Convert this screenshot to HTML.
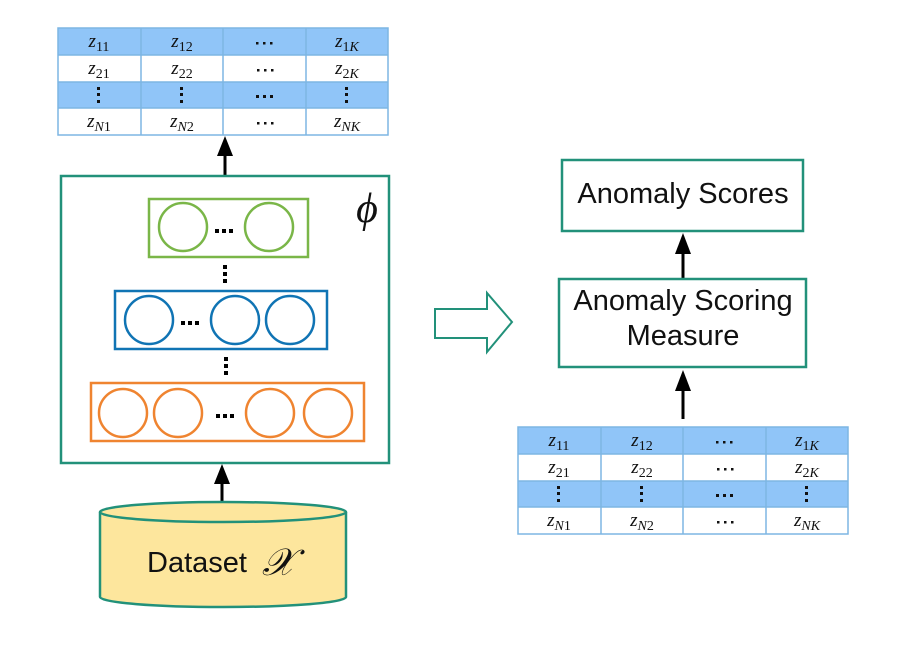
<!DOCTYPE html>
<html><head><meta charset="utf-8"><style>
html,body{margin:0;padding:0;background:#fff;}
svg{display:block;}
.z{font-family:"Liberation Serif",serif;font-size:19px;font-style:italic;}
.s{font-size:14px;font-style:normal;}
.si{font-size:14px;font-style:italic;}
.lbl{font-family:"Liberation Sans",sans-serif;font-size:29px;fill:#111;}
</style></head><body>
<svg width="914" height="652" viewBox="0 0 914 652" xmlns="http://www.w3.org/2000/svg">
<defs>
<g id="tbl">
  <rect x="0" y="0" width="330" height="27" fill="#90c5f8"/>
  <rect x="0" y="27" width="330" height="27" fill="#fff"/>
  <rect x="0" y="54" width="330" height="26" fill="#90c5f8"/>
  <rect x="0" y="80" width="330" height="27" fill="#fff"/>
  <g stroke="#7db6e3" stroke-width="1.5" fill="none">
    <rect x="0" y="0" width="330" height="107"/>
    <line x1="0" y1="27" x2="330" y2="27"/>
    <line x1="0" y1="54" x2="330" y2="54"/>
    <line x1="0" y1="80" x2="330" y2="80"/>
    <line x1="83" y1="0" x2="83" y2="107"/>
    <line x1="165" y1="0" x2="165" y2="107"/>
    <line x1="248" y1="0" x2="248" y2="107"/>
  </g>
  <g class="z" text-anchor="middle" fill="#111">
    <text x="41" y="19">z<tspan class="s" dy="4">11</tspan></text>
    <text x="124" y="19">z<tspan class="s" dy="4">12</tspan></text>
    <text x="289" y="19">z<tspan class="s" dy="4">1</tspan><tspan class="si">K</tspan></text>
    <text x="41" y="46">z<tspan class="s" dy="4">21</tspan></text>
    <text x="124" y="46">z<tspan class="s" dy="4">22</tspan></text>
    <text x="289" y="46">z<tspan class="s" dy="4">2</tspan><tspan class="si">K</tspan></text>
    <text x="41" y="99">z<tspan class="si" dy="4">N</tspan><tspan class="s">1</tspan></text>
    <text x="124" y="99">z<tspan class="si" dy="4">N</tspan><tspan class="s">2</tspan></text>
    <text x="289" y="99">z<tspan class="si" dy="4">NK</tspan></text>
  </g>
  <g fill="#111">
    <rect x="198" y="14" width="2.5" height="2.5"/><rect x="205" y="14" width="2.5" height="2.5"/><rect x="212" y="14" width="2.5" height="2.5"/>
    <rect x="199" y="41" width="2.5" height="2.5"/><rect x="206" y="41" width="2.5" height="2.5"/><rect x="213" y="41" width="2.5" height="2.5"/>
    <rect x="198" y="67" width="3" height="3"/><rect x="205" y="67" width="3" height="3"/><rect x="212" y="67" width="3" height="3"/>
    <rect x="199" y="94" width="2.5" height="2.5"/><rect x="206" y="94" width="2.5" height="2.5"/><rect x="213" y="94" width="2.5" height="2.5"/>
    <rect x="39" y="59" width="3" height="3"/><rect x="39" y="65" width="3" height="3"/><rect x="39" y="72" width="3" height="3"/>
    <rect x="122" y="59" width="3" height="3"/><rect x="122" y="65" width="3" height="3"/><rect x="122" y="72" width="3" height="3"/>
    <rect x="287" y="59" width="3" height="3"/><rect x="287" y="65" width="3" height="3"/><rect x="287" y="72" width="3" height="3"/>
  </g>
</g>
</defs>

<use href="#tbl" x="58" y="28"/>
<use href="#tbl" x="518" y="427"/>

<g stroke="#000" stroke-width="3">
  <line x1="225" y1="175" x2="225" y2="150"/>
  <line x1="222" y1="503" x2="222" y2="480"/>
  <line x1="683" y1="279" x2="683" y2="250"/>
  <line x1="683" y1="419" x2="683" y2="388"/>
</g>
<g fill="#000">
  <polygon points="225,136 217,156 233,156"/>
  <polygon points="222,464 214,484 230,484"/>
  <polygon points="683,233 675,254 691,254"/>
  <polygon points="683,370 675,391 691,391"/>
</g>

<rect x="61" y="176" width="328" height="287" fill="#fff" stroke="#22917a" stroke-width="2.5"/>
<text x="367" y="222" font-family="Liberation Serif,serif" font-style="italic" font-size="42" text-anchor="middle" fill="#111">ϕ</text>

<rect x="149" y="199" width="159" height="58" fill="none" stroke="#7ab648" stroke-width="2.5"/>
<g fill="none" stroke="#7ab648" stroke-width="2.5">
  <circle cx="183" cy="227" r="24"/><circle cx="269" cy="227" r="24"/>
</g>
<rect x="115" y="291" width="212" height="58" fill="none" stroke="#1074b4" stroke-width="2.5"/>
<g fill="none" stroke="#1074b4" stroke-width="2.5">
  <circle cx="149" cy="320" r="24"/><circle cx="235" cy="320" r="24"/><circle cx="290" cy="320" r="24"/>
</g>
<rect x="91" y="383" width="273" height="58" fill="none" stroke="#ef8430" stroke-width="2.5"/>
<g fill="none" stroke="#ef8430" stroke-width="2.5">
  <circle cx="123" cy="413" r="24"/><circle cx="178" cy="413" r="24"/><circle cx="270" cy="413" r="24"/><circle cx="328" cy="413" r="24"/>
</g>
<g fill="#000">
  <rect x="215" y="229" width="4" height="4"/><rect x="222" y="229" width="4" height="4"/><rect x="229" y="229" width="4" height="4"/>
  <rect x="181" y="321" width="4" height="4"/><rect x="188" y="321" width="4" height="4"/><rect x="195" y="321" width="4" height="4"/>
  <rect x="216" y="414" width="4" height="4"/><rect x="223" y="414" width="4" height="4"/><rect x="230" y="414" width="4" height="4"/>
  <rect x="223" y="265" width="4" height="4"/><rect x="223" y="272" width="4" height="4"/><rect x="223" y="279" width="4" height="4"/>
  <rect x="224" y="357" width="4" height="4"/><rect x="224" y="364" width="4" height="4"/><rect x="224" y="371" width="4" height="4"/>
</g>

<path d="M100,512 L100,597 A123,10 0 0 0 346,597 L346,512" fill="#fde69d" stroke="#22917a" stroke-width="2.5"/>
<ellipse cx="223" cy="512" rx="123" ry="10" fill="#fde69d" stroke="#22917a" stroke-width="2.5"/>
<text x="147" y="572" class="lbl">Dataset</text>
<text x="262" y="575" font-family="Liberation Serif,serif" font-style="italic" font-size="38" fill="#111">𝒳</text>

<polygon points="435,309 487,309 487,293 512,322 487,352 487,338 435,338" fill="#fff" stroke="#22917a" stroke-width="2"/>

<rect x="562" y="160" width="241" height="71" fill="#fff" stroke="#22917a" stroke-width="2.5"/>
<text x="683" y="203" class="lbl" text-anchor="middle">Anomaly Scores</text>
<rect x="559" y="279" width="247" height="88" fill="#fff" stroke="#22917a" stroke-width="2.5"/>
<text x="683" y="310" class="lbl" text-anchor="middle">Anomaly Scoring</text>
<text x="683" y="345" class="lbl" text-anchor="middle">Measure</text>
</svg>
</body></html>
